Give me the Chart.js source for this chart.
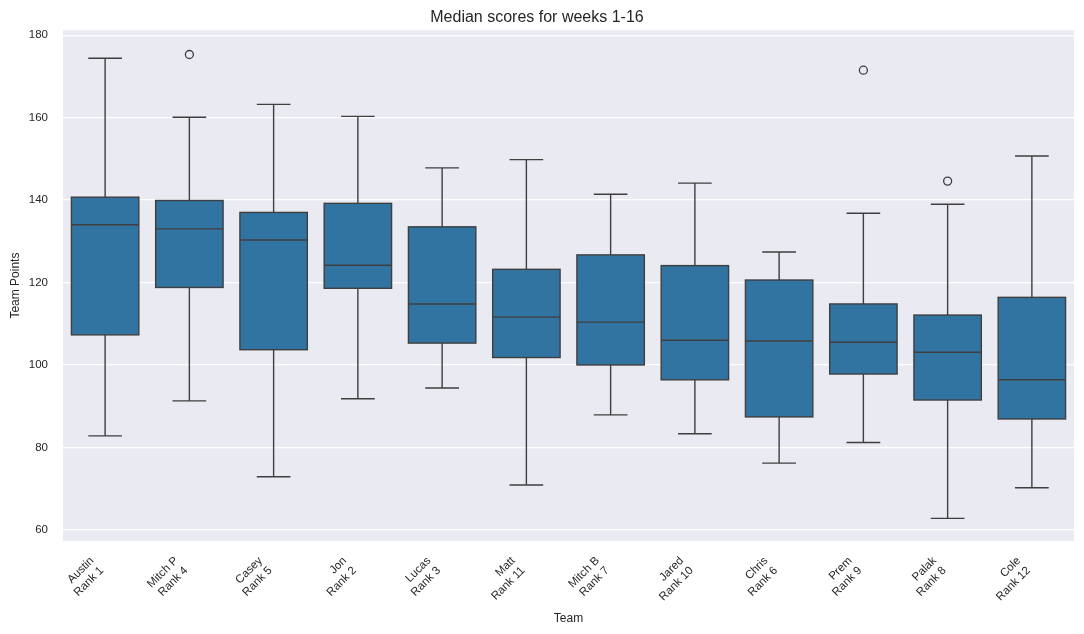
<!DOCTYPE html>
<html>
<head>
<meta charset="utf-8">
<script src="https://cdn.jsdelivr.net/npm/chart.js@4/dist/chart.umd.min.js"></script>
<style>
  html, body { margin: 0; padding: 0; background: #ffffff; }
  #wrap { width: 1084px; height: 634px; }
</style>
</head>
<body>
<div id="wrap"><canvas id="boxChart" width="1084" height="634"></canvas></div>
<script>
/* ===== DATA ===== */
const teams = ["Austin", "Mitch P", "Casey", "Jon", "Lucas", "Matt", "Mitch B", "Jared", "Chris", "Prem", "Palak", "Cole"];
const ranks = [1, 4, 5, 2, 3, 11, 7, 10, 6, 9, 8, 12];
const whiskerLow = [82.8, 91.3, 72.9, 91.8, 94.4, 70.9, 87.9, 83.3, 76.2, 81.2, 62.8, 70.2];
const q1 = [107.3, 118.8, 103.7, 118.6, 105.3, 101.8, 100.0, 96.4, 87.4, 97.8, 91.5, 86.9];
const median = [134.0, 133.0, 130.3, 124.2, 114.8, 111.6, 110.4, 106.0, 105.8, 105.5, 103.1, 96.4];
const q3 = [140.7, 139.9, 137.0, 139.2, 133.5, 123.2, 126.7, 124.1, 120.6, 114.8, 112.1, 116.4];
const whiskerHigh = [174.4, 160.1, 163.2, 160.3, 147.8, 149.8, 141.4, 144.1, 127.4, 136.8, 139.0, 150.7];
const outliers = [null, 175.3, null, null, null, null, null, null, null, 171.5, 144.6, null];
const yTicks = [60, 80, 100, 120, 140, 160, 180];

const labels = teams.map((t, i) => [t, "Rank " + ranks[i]]);

const BOX_FILL = "#3274a1";
const LINE = "#3f3f3f";
const TEXT = "#262626";
const FONT = "'Liberation Sans', Arial, sans-serif";

/* ===== PLOT BACKGROUND ===== */
const bgPlugin = {
    id: "plotBg",
    beforeDraw(chart) {
        const { ctx, chartArea: a } = chart;
        ctx.save();
        ctx.fillStyle = "#eaeaf2";
        ctx.fillRect(a.left, a.top, a.right - a.left, a.bottom - a.top);
        ctx.restore();
    }
};

/* ===== WHISKERS + MEDIANS ===== */
const boxPlugin = {
    id: "boxParts",
    afterDatasetsDraw(chart) {
        const { ctx } = chart;
        const x = chart.scales.x;
        const y = chart.scales.y;
        const bars = chart.getDatasetMeta(0).data;
        ctx.save();
        ctx.strokeStyle = LINE;
        ctx.lineWidth = 1.4;
        bars.forEach((bar, i) => {
            const cx = x.getPixelForValue(i);
            const half = bar.width / 2;
            const cap = half / 2;
            ctx.beginPath();
            // upper whisker
            ctx.moveTo(cx, y.getPixelForValue(q3[i]));
            ctx.lineTo(cx, y.getPixelForValue(whiskerHigh[i]));
            ctx.moveTo(cx - cap, y.getPixelForValue(whiskerHigh[i]));
            ctx.lineTo(cx + cap, y.getPixelForValue(whiskerHigh[i]));
            // lower whisker
            ctx.moveTo(cx, y.getPixelForValue(q1[i]));
            ctx.lineTo(cx, y.getPixelForValue(whiskerLow[i]));
            ctx.moveTo(cx - cap, y.getPixelForValue(whiskerLow[i]));
            ctx.lineTo(cx + cap, y.getPixelForValue(whiskerLow[i]));
            // median
            ctx.moveTo(cx - half, y.getPixelForValue(median[i]));
            ctx.lineTo(cx + half, y.getPixelForValue(median[i]));
            ctx.stroke();
            // box outline on top of the fill
            ctx.strokeRect(cx - half, y.getPixelForValue(q3[i]), half * 2,
                y.getPixelForValue(q1[i]) - y.getPixelForValue(q3[i]));
        });
        ctx.restore();
    }
};

new Chart(document.getElementById("boxChart"), {
    type: "bar",
    data: {
        labels: labels,
        datasets: [{
            label: "IQR",
            data: q1.map((v, i) => [v, q3[i]]),
            backgroundColor: BOX_FILL,
            borderWidth: 0,
            categoryPercentage: 0.8,
            barPercentage: 1.0,
            order: 2
        }, {
            type: "line",
            label: "Outliers",
            data: outliers,
            showLine: false,
            pointStyle: "circle",
            pointRadius: 4,
            pointBorderWidth: 1.3,
            pointBorderColor: LINE,
            pointBackgroundColor: "rgba(0,0,0,0)",
            order: 1
        }]
    },
    options: {
        responsive: false,
        animation: false,
        layout: { padding: { left: 0, right: 10, top: 0, bottom: 0 } },
        plugins: {
            legend: { display: false },
            tooltip: { enabled: false },
            title: {
                display: true,
                text: "Median scores for weeks 1-16",
                color: TEXT,
                font: { family: FONT, size: 16, weight: "normal" },
                padding: { top: 8, bottom: 3 }
            }
        },
        scales: {
            x: {
                offset: true,
                grid: { display: false, drawTicks: false },
                border: { display: false },
                ticks: {
                    color: TEXT,
                    font: { family: FONT, size: 11.5 },
                    minRotation: 45,
                    maxRotation: 45,
                    padding: 13,
                    labelOffset: -13,
                    autoSkip: false
                },
                title: {
                    display: true,
                    text: "Team",
                    color: TEXT,
                    font: { family: FONT, size: 12 },
                    padding: { top: 4, bottom: 8 }
                },
                afterFit(scale) { scale.height = 93; }
            },
            y: {
                min: 57.3,
                max: 181.2,
                afterBuildTicks(scale) { scale.ticks = yTicks.map(v => ({ value: v })); },
                grid: { color: "#ffffff", lineWidth: 1.2, drawTicks: false },
                border: { display: false },
                ticks: {
                    color: TEXT,
                    font: { family: FONT, size: 11.5 },
                    padding: 15
                },
                title: {
                    display: true,
                    text: "Team Points",
                    color: TEXT,
                    font: { family: FONT, size: 12 },
                    padding: { top: 8, bottom: 4 }
                },
                afterFit(scale) { scale.width = 63; }
            }
        }
    },
    plugins: [bgPlugin, boxPlugin]
});
</script>
</body>
</html>
